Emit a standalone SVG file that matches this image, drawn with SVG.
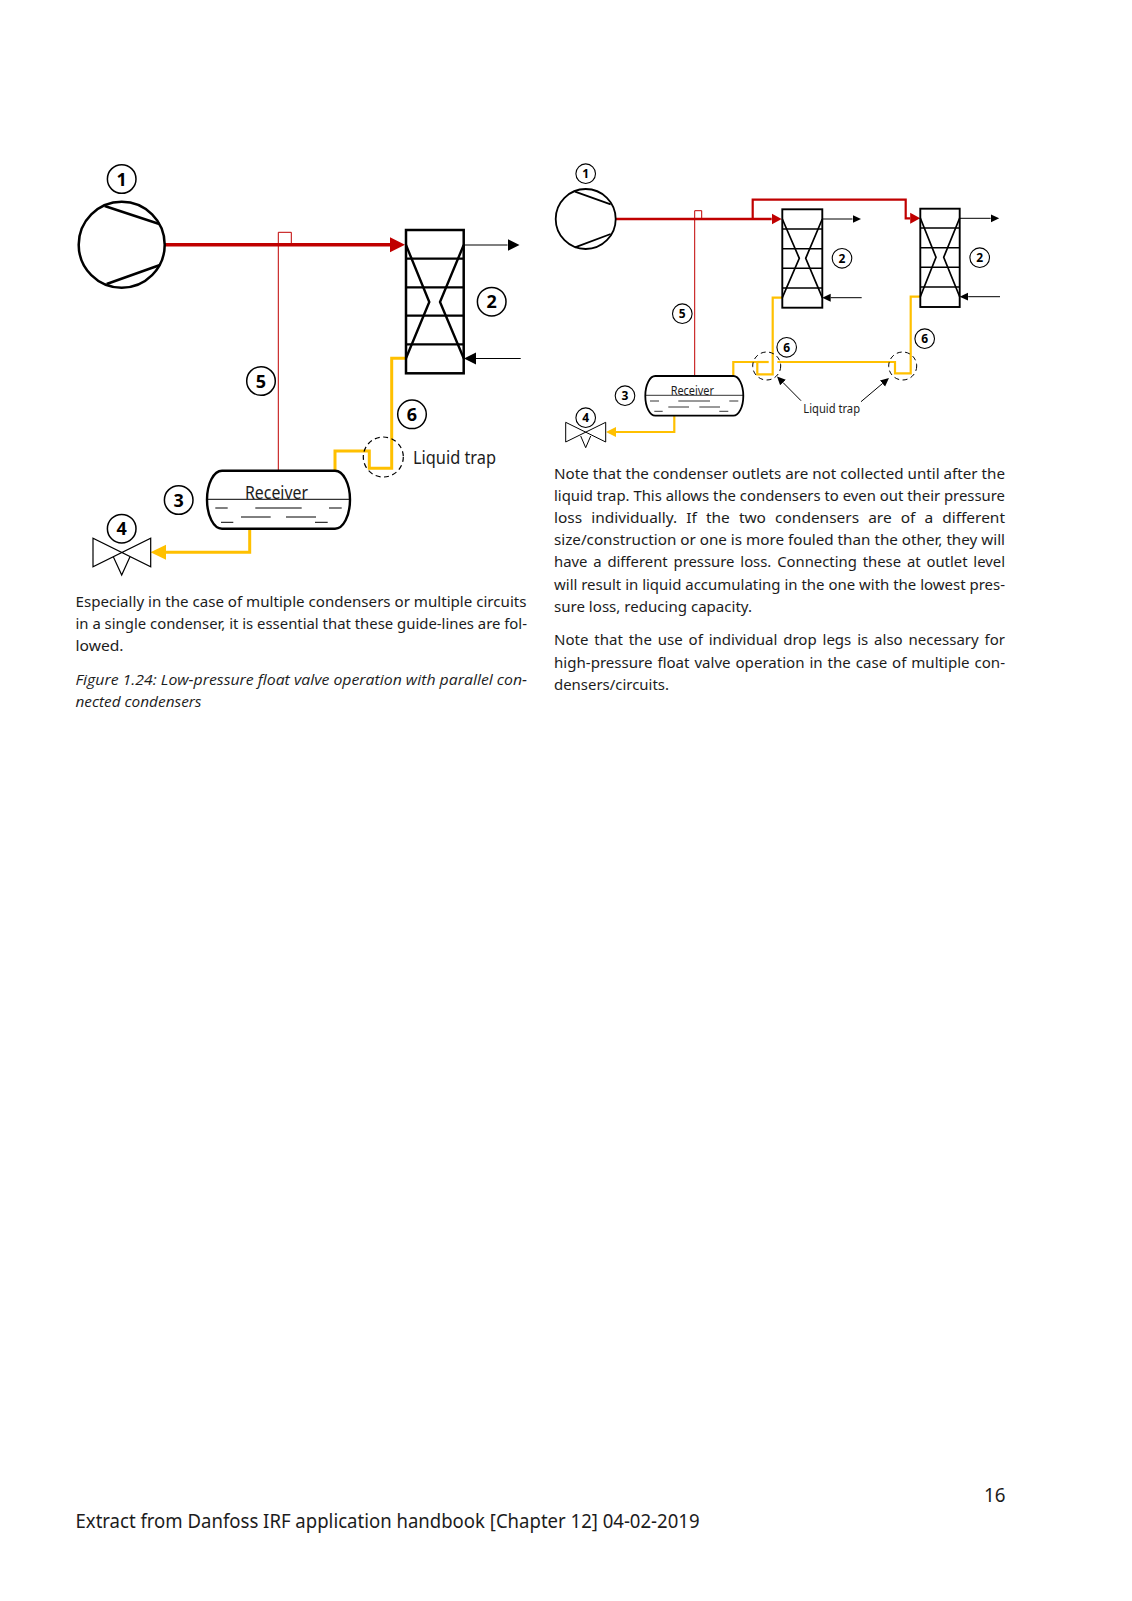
<svg xmlns="http://www.w3.org/2000/svg" width="1132" height="1601" viewBox="0 0 1132 1601">
<style>
text{font-family:"Noto Sans","Open Sans","Liberation Sans",sans-serif;fill:#1c1c1c}
.body{font-size:15.2px}
.it{font-family:"Open Sans","Noto Sans",sans-serif;font-size:15.2px;font-style:italic}
.numL{font-size:18px;font-weight:700;text-anchor:middle;fill:#000}
.numS{font-size:12px;font-weight:700;text-anchor:middle;fill:#000}
.cir{fill:#fff;stroke:#000}
.b{fill:none;stroke:#000;stroke-linejoin:miter}
.red{fill:none;stroke:#c00000}
.yel{fill:none;stroke:#ffc000;stroke-linejoin:miter}
.dash{fill:none;stroke:#000;stroke-dasharray:5 3.5}
</style>
<defs>
<marker id="rL" markerUnits="userSpaceOnUse" markerWidth="16" markerHeight="16" refX="0" refY="8" orient="auto"><path d="M0 0.5L15 8L0 15.5Z" fill="#c00000"/></marker>
<marker id="rS" markerUnits="userSpaceOnUse" markerWidth="11" markerHeight="12" refX="0" refY="6" orient="auto"><path d="M0 0.5L10 6L0 11.5Z" fill="#c00000"/></marker>
<marker id="kL" markerUnits="userSpaceOnUse" markerWidth="14" markerHeight="14" refX="0" refY="7" orient="auto"><path d="M0 1L12 7L0 13Z" fill="#000"/></marker>
<marker id="kS" markerUnits="userSpaceOnUse" markerWidth="10" markerHeight="10" refX="0" refY="5" orient="auto"><path d="M0 1L8.5 5L0 9Z" fill="#000"/></marker>
<marker id="yL" markerUnits="userSpaceOnUse" markerWidth="16" markerHeight="16" refX="0" refY="8" orient="auto"><path d="M0 0.5L15.5 8L0 15.5Z" fill="#ffc000"/></marker>
<marker id="yS" markerUnits="userSpaceOnUse" markerWidth="11" markerHeight="12" refX="0" refY="6" orient="auto"><path d="M0 1L10 6L0 11Z" fill="#ffc000"/></marker>
</defs>

<g id="connectors">
<g id="connectors-left">
<path class="red" stroke-width="1" d="M278.3 245V470.7"/>
<path class="red" stroke-width="1" d="M278.3 245V232.3H291.3V245"/>
<path class="red" stroke-width="3.4" d="M164 244.7H390" marker-end="url(#rL)"/>
<path class="b" stroke-width="1.2" d="M463.7 245H507.5" marker-end="url(#kL)"/>
<path class="b" stroke-width="1.2" d="M520.7 358.5H476" marker-end="url(#kL)"/>
<path class="yel" stroke-width="3" d="M406 358.3H391.7V468.3H369.3V451H335V470.7"/>
<path class="yel" stroke-width="3" d="M249.7 528.7V552.3H166" marker-end="url(#yL)"/>
</g>
<g id="connectors-right">
<path class="red" stroke-width="1" d="M694.7 219V376"/>
<path class="red" stroke-width="1" d="M694.7 219V210.7H701.7V219"/>
<path class="red" stroke-width="2.4" d="M616 219H771.7" marker-end="url(#rS)"/>
<path class="red" stroke-width="2.2" d="M752.7 219V199.7H905.7V218.3H910.2" marker-end="url(#rS)"/>
<path class="b" stroke-width="1" d="M822.3 219H852.5" marker-end="url(#kS)"/>
<path class="b" stroke-width="1" d="M861.7 297.7H830.7" marker-end="url(#kS)"/>
<path class="b" stroke-width="1" d="M959.7 218.3H990.7" marker-end="url(#kS)"/>
<path class="b" stroke-width="1" d="M1000 296.7H968.2" marker-end="url(#kS)"/>
<path class="yel" stroke-width="2.2" d="M782.3 297.7H772.7V374.3H757.3V362H733.3V376"/>
<path class="yel" stroke-width="2.2" d="M757.3 362H768.7"/>
<path class="yel" stroke-width="2.2" d="M777.3 362H895V373.3H910.7V296.7H920.3"/>
<path class="yel" stroke-width="2.2" d="M674.3 415.7V432H616" marker-end="url(#yS)"/>
<path class="b" stroke-width="1" d="M801 400.7L783 382.5" marker-end="url(#kS)"/>
<path class="b" stroke-width="1" d="M861 401.7L882.5 383.5" marker-end="url(#kS)"/>
</g>
</g>

<g id="compressor-left">
<circle cx="121.7" cy="244.7" r="43" fill="none" stroke="#000" stroke-width="2.5"/>
<path class="b" stroke-width="2.5" d="M104.7 206L159.3 224M106.7 284L159.3 265.3"/>
</g>
<g id="condenser-left">
<rect x="406" y="230" width="57.7" height="143.3" class="b" stroke-width="2.5"/>
<path class="b" stroke-width="2.2" d="M406 258.7H463.7M406 287.3H463.7M406 315.7H463.7M406 344.3H463.7"/>
<path class="b" stroke-width="2.4" d="M406 245L429.3 302L406 358.3M463.7 245L440 302L463.7 358.3"/>
</g>
<g id="receiver-left">
<rect x="207" y="470.7" width="143" height="58" rx="15" ry="29" class="b" stroke-width="2.4"/>
<path class="b" stroke-width="1" d="M207 499.3H350M215.3 508H227.7M255.3 508H301.7M329 508H341.7M241 517H270.7M286 517H316M221 522.3H233.3M315 522.3H327.7"/>
<text x="245" y="498.5" font-size="17.5" textLength="63" lengthAdjust="spacingAndGlyphs">Receiver</text>
</g>
<g id="valve-left">
<path class="b" stroke-width="1.2" d="M93 538.3V566.7L150.7 538.3V566.7ZM113.3 556.7L121.7 575L130 556.7"/>
</g>
<g id="trap-left">
<circle cx="383.3" cy="457" r="20" class="dash" stroke-width="1.2"/>
<text x="413" y="464" font-size="17.6" textLength="83" lengthAdjust="spacingAndGlyphs">Liquid trap</text>
</g>
<g id="labels-left">
<circle class="cir" stroke-width="1.5" cx="121.7" cy="179" r="14.3"/><text class="numL" x="121.7" y="185.5">1</text>
<circle class="cir" stroke-width="1.5" cx="491.7" cy="301.7" r="14.3"/><text class="numL" x="491.7" y="308.2">2</text>
<circle class="cir" stroke-width="1.5" cx="178.7" cy="500" r="14.3"/><text class="numL" x="178.7" y="506.5">3</text>
<circle class="cir" stroke-width="1.5" cx="121.7" cy="528.7" r="14.3"/><text class="numL" x="121.7" y="535.2">4</text>
<circle class="cir" stroke-width="1.5" cx="261" cy="381" r="14.3"/><text class="numL" x="261" y="387.5">5</text>
<circle class="cir" stroke-width="1.5" cx="412" cy="414.3" r="14.3"/><text class="numL" x="412" y="420.8">6</text>
</g>

<g id="compressor-right">
<circle cx="585.7" cy="219" r="30" fill="none" stroke="#000" stroke-width="1.8"/>
<path class="b" stroke-width="1.8" d="M575 191.7L610.7 204.3M575 247.3L610.7 234"/>
</g>
<g id="condenser-right-1">
<rect x="782.3" y="209.3" width="40" height="98.4" class="b" stroke-width="1.9"/>
<path class="b" stroke-width="1.6" d="M782.3 229H822.3M782.3 248.7H822.3M782.3 268.3H822.3M782.3 288H822.3"/>
<path class="b" stroke-width="1.7" d="M782.3 219L799.3 258.3L782.3 297.7M822.3 219L805.7 258.3L822.3 297.7"/>
</g>
<g id="condenser-right-2">
<rect x="920.3" y="208.7" width="39.4" height="98.3" class="b" stroke-width="1.9"/>
<path class="b" stroke-width="1.6" d="M920.3 228H959.7M920.3 247.7H959.7M920.3 267.3H959.7M920.3 287H959.7"/>
<path class="b" stroke-width="1.7" d="M920.3 218L936 257.3L920.3 296.7M959.7 218L943.7 257.3L959.7 296.7"/>
</g>
<g id="receiver-right">
<rect x="645.3" y="376" width="98" height="39.7" rx="10" ry="19.8" class="b" stroke-width="1.8"/>
<path class="b" stroke-width="0.8" d="M645.3 395.3H743.3M650 401H659M678.3 401H710M729.3 401H738.3M668.3 407H689M699.3 407H720M654.3 411.3H662.7M719.3 411.3H728.3"/>
<text x="670.7" y="395" font-size="11.8" textLength="43.3" lengthAdjust="spacingAndGlyphs">Receiver</text>
</g>
<g id="valve-right">
<path class="b" stroke-width="1" d="M565.7 422.3V442L605.7 422.3V442ZM580.7 436L585.7 447.7L590.7 436"/>
</g>
<g id="trap-right">
<circle cx="766.7" cy="366" r="14" class="dash" stroke-width="1" stroke-dasharray="4 2.5"/>
<circle cx="902.7" cy="366" r="14" class="dash" stroke-width="1" stroke-dasharray="4 2.5"/>
<text x="803.3" y="412.7" font-size="11.8" textLength="56.7" lengthAdjust="spacingAndGlyphs">Liquid trap</text>
</g>
<g id="labels-right">
<circle class="cir" stroke-width="1.1" cx="585.7" cy="173.7" r="9.8"/><text class="numS" x="585.7" y="178">1</text>
<circle class="cir" stroke-width="1.1" cx="842" cy="258.3" r="9.8"/><text class="numS" x="842" y="262.6">2</text>
<circle class="cir" stroke-width="1.1" cx="979.7" cy="257.7" r="9.8"/><text class="numS" x="979.7" y="262">2</text>
<circle class="cir" stroke-width="1.1" cx="625" cy="395.7" r="9.8"/><text class="numS" x="625" y="400">3</text>
<circle class="cir" stroke-width="1.1" cx="585.7" cy="417.7" r="9.8"/><text class="numS" x="585.7" y="422">4</text>
<circle class="cir" stroke-width="1.1" cx="682.3" cy="313.7" r="9.8"/><text class="numS" x="682.3" y="318">5</text>
<circle class="cir" stroke-width="1.1" cx="786.7" cy="347.3" r="9.8"/><text class="numS" x="786.7" y="351.6">6</text>
<circle class="cir" stroke-width="1.1" cx="924.7" cy="338.7" r="9.8"/><text class="numS" x="924.7" y="343">6</text>
</g>

<g id="text-left">
<text class="body" x="75.5" y="606.5" textLength="451" lengthAdjust="spacingAndGlyphs">Especially in the case of multiple condensers or multiple circuits</text>
<text class="body" x="75.5" y="628.6" textLength="451.5" lengthAdjust="spacingAndGlyphs">in a single condenser, it is essential that these guide-lines are fol-</text>
<text class="body" x="75.5" y="650.7" textLength="48" lengthAdjust="spacingAndGlyphs">lowed.</text>
<text class="it" x="75.5" y="684.7" textLength="451.5" lengthAdjust="spacingAndGlyphs">Figure 1.24: Low-pressure float valve operation with parallel con-</text>
<text class="it" x="75.5" y="706.8" textLength="126" lengthAdjust="spacingAndGlyphs">nected condensers</text>
</g>
<g id="text-right">
<text class="body" x="554" y="478.7" textLength="451" lengthAdjust="spacingAndGlyphs">Note that the condenser outlets are not collected until after the</text>
<text class="body" x="554" y="500.9" textLength="451" lengthAdjust="spacingAndGlyphs">liquid trap. This allows the condensers to even out their pressure</text>
<text class="body" x="554" y="523.1" textLength="451" lengthAdjust="spacingAndGlyphs" word-spacing="5">loss individually. If the two condensers are of a different</text>
<text class="body" x="554" y="545.2" textLength="451" lengthAdjust="spacingAndGlyphs">size/construction or one is more fouled than the other, they will</text>
<text class="body" x="554" y="567.4" textLength="451" lengthAdjust="spacingAndGlyphs" word-spacing="2">have a different pressure loss. Connecting these at outlet level</text>
<text class="body" x="554" y="589.6" textLength="451" lengthAdjust="spacingAndGlyphs">will result in liquid accumulating in the one with the lowest pres-</text>
<text class="body" x="554" y="611.7" textLength="198" lengthAdjust="spacingAndGlyphs">sure loss, reducing capacity.</text>
<text class="body" x="554" y="645.4" textLength="451" lengthAdjust="spacingAndGlyphs" word-spacing="2">Note that the use of individual drop legs is also necessary for</text>
<text class="body" x="554" y="667.6" textLength="451" lengthAdjust="spacingAndGlyphs" word-spacing="1">high-pressure float valve operation in the case of multiple con-</text>
<text class="body" x="554" y="689.7" textLength="115" lengthAdjust="spacingAndGlyphs">densers/circuits.</text>
</g>
<g id="footer">
<text x="984" y="1502" font-size="19" textLength="21.5" lengthAdjust="spacingAndGlyphs">16</text>
<text x="75.5" y="1528" font-size="20" textLength="624" lengthAdjust="spacingAndGlyphs">Extract from Danfoss IRF application handbook [Chapter 12] 04-02-2019</text>
</g>
</svg>
